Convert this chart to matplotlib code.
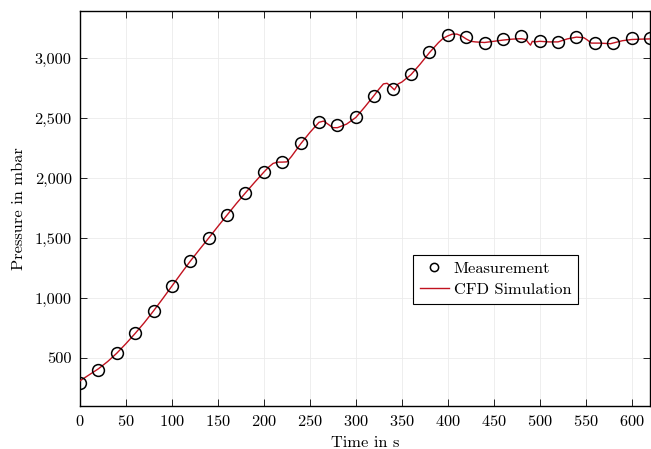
import matplotlib
matplotlib.use("Agg")
import matplotlib.pyplot as plt
from matplotlib.ticker import FuncFormatter

plt.rcParams['font.family'] = 'serif'
plt.rcParams['font.serif'] = ['cmr10', 'DejaVu Serif']
plt.rcParams['mathtext.fontset'] = 'cm'
plt.rcParams['axes.formatter.use_mathtext'] = True

# Measurement data
meas_t = [0, 20, 40, 60, 80, 100, 120, 140, 160, 180, 200, 220, 240, 260, 280,
          300, 320, 340, 360, 380, 400, 420, 440, 460, 480, 500, 520, 540, 560,
          580, 600, 620]
meas_p = [292, 402, 542, 705, 894, 1100, 1311, 1503, 1692, 1875, 2050, 2134,
          2292, 2467, 2440, 2511, 2686, 2742, 2867, 3050, 3192, 3174, 3128,
          3156, 3184, 3143, 3138, 3174, 3130, 3128, 3168, 3168]

# CFD simulation data
cfd_t = [0, 10, 20, 30, 40, 50, 60, 70, 80, 90, 100, 110, 120, 130, 140, 150,
         160, 170, 180, 190, 200, 205, 210, 215, 220, 225, 230, 240, 250, 260,
         265, 270, 275, 280, 290, 300, 310, 320, 325, 330, 334, 338, 342, 346,
         350, 360, 370, 380, 390, 395, 400, 405, 410, 415, 420, 425, 430, 440,
         450, 460, 470, 480, 485, 488, 490, 492, 495, 500, 510, 520, 530, 540,
         548, 552, 556, 565, 577, 590, 600, 610, 620]
cfd_p = [310, 360, 410, 470, 540, 620, 705, 795, 893, 995, 1100, 1205, 1308,
         1405, 1500, 1597, 1692, 1787, 1877, 1965, 2050, 2090, 2122, 2133, 2133,
         2135, 2180, 2285, 2380, 2465, 2475, 2448, 2420, 2420, 2450, 2505, 2595,
         2690, 2740, 2785, 2790, 2765, 2735, 2785, 2800, 2862, 2950, 3045, 3130,
         3165, 3185, 3200, 3200, 3185, 3160, 3140, 3135, 3130, 3140, 3150, 3158,
         3162, 3155, 3125, 3108, 3140, 3135, 3140, 3135, 3135, 3160, 3175, 3170,
         3150, 3125, 3125, 3120, 3145, 3155, 3158, 3160]

x_ticks = list(range(0, 601, 50))
y_ticks = list(range(500, 3001, 500))

fig = plt.figure(figsize=(6.51, 4.49), dpi=100)
ax = fig.add_axes([0.1229, 0.0958, 0.8756, 0.879])

ax.plot(cfd_t, cfd_p, color='#c1121f', lw=1.0, label='CFD Simulation', zorder=3)
ax.plot(meas_t, meas_p, linestyle='none', marker='o', markersize=8.5,
        markerfacecolor='none', markeredgecolor='black', markeredgewidth=1.1,
        label='Measurement', zorder=4)

ax.set_xlim(0, 620)
ax.set_ylim(100, 3390)
ax.set_xticks(x_ticks)
ax.set_yticks(y_ticks)
ax.yaxis.set_major_formatter(FuncFormatter(lambda v, p: f'{int(v):,}'))
ax.grid(True, color='#ebebeb', lw=0.6, zorder=0)
ax.set_axisbelow(True)
ax.tick_params(direction='in', length=5, width=0.6, top=True, right=True,
               labelsize=11.8, pad=6)
for s in ax.spines.values():
    s.set_linewidth(1.0)

ax.set_xlabel('Time in s', fontsize=11.8, labelpad=5)
ax.set_ylabel('Pressure in mbar', fontsize=11.8, labelpad=6)

h, l = ax.get_legend_handles_labels()
leg = ax.legend([h[1], h[0]], [l[1], l[0]], loc='upper left',
                bbox_to_anchor=(0.585, 0.3826), fontsize=11.8, frameon=True,
                fancybox=False, shadow=False, edgecolor='black', framealpha=1,
                markerscale=0.7, handlelength=1.75, borderpad=0.4,
                labelspacing=0.4, handletextpad=0.3, borderaxespad=0)
leg.get_frame().set_linewidth(0.8)

fig.savefig('out.png', dpi=100)
